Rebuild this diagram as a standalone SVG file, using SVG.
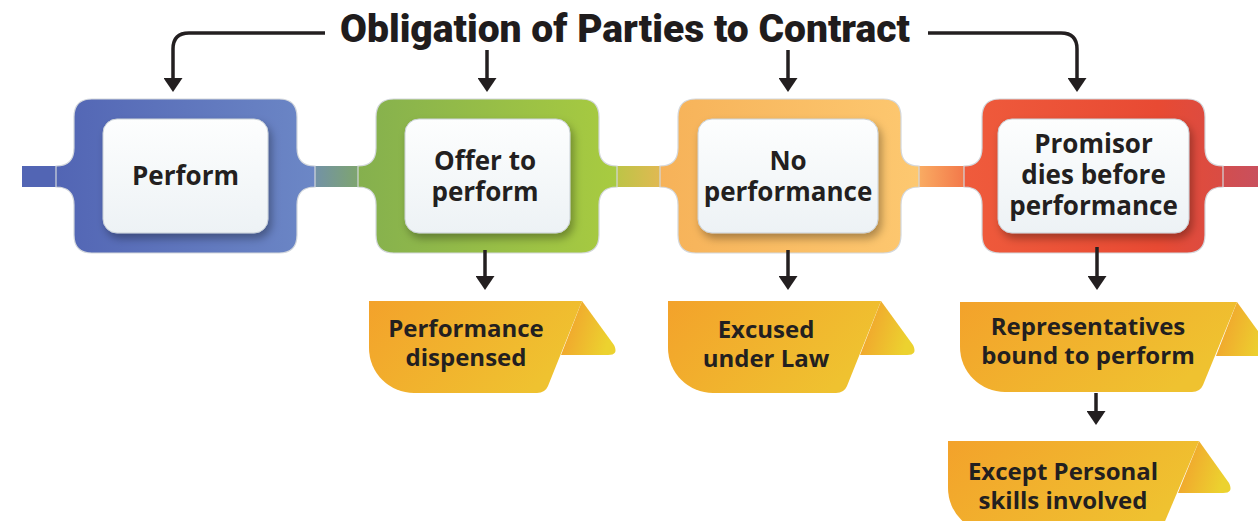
<svg xmlns="http://www.w3.org/2000/svg" width="1258" height="521" viewBox="0 0 1258 521">
  <defs>
    <style>
      .title { font-family: Roboto, "Liberation Sans", sans-serif; font-weight: 900; font-size: 38px; fill: #1f1c1d; }
      .ntext { font-family: "Open Sans", "Liberation Sans", sans-serif; font-weight: 700; font-size: 26px; fill: #231f20; text-anchor: middle; }
      .ltext { font-family: "Open Sans", "Liberation Sans", sans-serif; font-weight: 700; font-size: 24px; fill: #231f20; text-anchor: middle; }
      .wire { fill: none; stroke: #231f20; stroke-width: 3.5; }
      .outer { stroke: #d3d7dc; stroke-width: 1.2; }
      .inner { fill: url(#gWhite); stroke: #c9d0d6; stroke-width: 1; filter: url(#shadow); }
      .body { fill: url(#gTag); }
      .flap { fill: url(#gFlap); }
    </style>
    <marker id="head" viewBox="0 0 14 19" refX="4" refY="9.5" markerWidth="14" markerHeight="19" markerUnits="userSpaceOnUse" orient="auto">
      <path d="M0,0 L14,9.5 L0,19 Z" fill="#231f20"/>
    </marker>
    <filter id="shadow" x="-20%" y="-20%" width="150%" height="160%">
      <feDropShadow dx="3" dy="5" stdDeviation="4" flood-color="#000" flood-opacity="0.32"/>
    </filter>
    <linearGradient id="gWhite" x1="0" y1="0" x2="0" y2="1">
      <stop offset="0" stop-color="#fdfefe"/>
      <stop offset="1" stop-color="#edf2f5"/>
    </linearGradient>
    <linearGradient id="gBlue" x1="0" y1="0" x2="1" y2="0">
      <stop offset="0" stop-color="#5265b4"/>
      <stop offset="1" stop-color="#6c87c6"/>
    </linearGradient>
    <linearGradient id="gGreen" x1="0" y1="0" x2="1" y2="0">
      <stop offset="0" stop-color="#85b04e"/>
      <stop offset="1" stop-color="#a8cb40"/>
    </linearGradient>
    <linearGradient id="gOrange" x1="0" y1="0" x2="1" y2="0">
      <stop offset="0" stop-color="#f6b259"/>
      <stop offset="1" stop-color="#fdc870"/>
    </linearGradient>
    <linearGradient id="gRed" x1="0" y1="0" x2="1" y2="0">
      <stop offset="0" stop-color="#ef5b3c"/>
      <stop offset="0.75" stop-color="#e84a33"/>
      <stop offset="1" stop-color="#d94c44"/>
    </linearGradient>
    <linearGradient id="gBar1" x1="0" y1="0" x2="1" y2="0">
      <stop offset="0" stop-color="#6c87c6"/>
      <stop offset="1" stop-color="#85b04e"/>
    </linearGradient>
    <linearGradient id="gBar2" x1="0" y1="0" x2="1" y2="0">
      <stop offset="0" stop-color="#a8cb40"/>
      <stop offset="1" stop-color="#f6b259"/>
    </linearGradient>
    <linearGradient id="gBar3" x1="0" y1="0" x2="1" y2="0">
      <stop offset="0" stop-color="#fdc870"/>
      <stop offset="1" stop-color="#ef5b3c"/>
    </linearGradient>
    <linearGradient id="gBar4" x1="0" y1="0" x2="1" y2="0">
      <stop offset="0" stop-color="#d94c44"/>
      <stop offset="1" stop-color="#c9505d"/>
    </linearGradient>
    <linearGradient id="gTag" x1="0" y1="0" x2="1" y2="0.4">
      <stop offset="0" stop-color="#f3a22b"/>
      <stop offset="1" stop-color="#efc230"/>
    </linearGradient>
    <linearGradient id="gFlap" x1="0" y1="0" x2="1" y2="0.3">
      <stop offset="0" stop-color="#f29a2d"/>
      <stop offset="1" stop-color="#ecd22f"/>
    </linearGradient>
  </defs>

  <rect width="1258" height="521" fill="#ffffff"/>

  <!-- title -->
  <text class="title" x="340" y="42" textLength="570" lengthAdjust="spacingAndGlyphs">Obligation of Parties to Contract</text>

  <!-- horizontal track between the steps -->
  <g id="track">
    <rect x="22" y="166" width="60" height="21" fill="#5265b4"/>
    <rect x="290" y="166" width="94" height="21" fill="url(#gBar1)"/>
    <rect x="592" y="166" width="94" height="21" fill="url(#gBar2)"/>
    <rect x="894" y="166" width="96" height="21" fill="url(#gBar3)"/>
    <rect x="1198" y="166" width="60" height="21" fill="url(#gBar4)"/>
  </g>

  <!-- step 1 -->
  <g id="node-perform">
    <path class="outer" fill="url(#gBlue)" d="M92,99 H279 Q297,99 297,117 V148 Q297,166 315,166 V187 Q297,187 297,205 V235 Q297,253 279,253 H92 Q74,253 74,235 V205 Q74,187 56,187 V166 Q74,166 74,148 V117 Q74,99 92,99 Z"/>
    <rect class="inner" x="103" y="119" width="165" height="114" rx="14"/>
    <text class="ntext" x="185.5" y="185">Perform</text>
  </g>

  <!-- step 2 -->
  <g id="node-offer">
    <path class="outer" fill="url(#gGreen)" d="M394,99 H581 Q599,99 599,117 V148 Q599,166 617,166 V187 Q599,187 599,205 V235 Q599,253 581,253 H394 Q376,253 376,235 V205 Q376,187 358,187 V166 Q376,166 376,148 V117 Q376,99 394,99 Z"/>
    <rect class="inner" x="405" y="119" width="165" height="114" rx="14"/>
    <text class="ntext" x="485" y="170">Offer to</text>
    <text class="ntext" x="485" y="201">perform</text>
  </g>

  <!-- step 3 -->
  <g id="node-none">
    <path class="outer" fill="url(#gOrange)" d="M696,99 H883 Q901,99 901,117 V148 Q901,166 919,166 V187 Q901,187 901,205 V235 Q901,253 883,253 H696 Q678,253 678,235 V205 Q678,187 660,187 V166 Q678,166 678,148 V117 Q678,99 696,99 Z"/>
    <rect class="inner" x="698" y="119" width="180" height="114" rx="14"/>
    <text class="ntext" x="788" y="170">No</text>
    <text class="ntext" x="788" y="201">performance</text>
  </g>

  <!-- step 4 -->
  <g id="node-promisor">
    <path class="outer" fill="url(#gRed)" d="M1000,99 H1187 Q1205,99 1205,117 V148 Q1205,166 1223,166 V187 Q1205,187 1205,205 V235 Q1205,253 1187,253 H1000 Q982,253 982,235 V205 Q982,187 964,187 V166 Q982,166 982,148 V117 Q982,99 1000,99 Z"/>
    <rect class="inner" x="998" y="119" width="191" height="114" rx="14"/>
    <text class="ntext" x="1093.5" y="153">Promisor</text>
    <text class="ntext" x="1093.5" y="184">dies before</text>
    <text class="ntext" x="1093.5" y="215">performance</text>
  </g>

  <!-- outcome tags -->
  <g id="tag-dispensed">
    <path class="flap" d="M582,301 L614,345 Q619,355 608,355 H561 Z"/>
    <path class="body" d="M369,301 H582 L548,386 Q545,393 537,393 H414 A45,45 0 0 1 369,348 Z"/>
    <text class="ltext" x="466" y="337">Performance</text>
    <text class="ltext" x="466" y="366">dispensed</text>
  </g>

  <g id="tag-excused">
    <path class="flap" d="M881,301 L913,345 Q918,355 907,355 H860 Z"/>
    <path class="body" d="M668,301 H881 L847,386 Q844,393 836,393 H713 A45,45 0 0 1 668,348 Z"/>
    <text class="ltext" x="766" y="338">Excused</text>
    <text class="ltext" x="766" y="367">under Law</text>
  </g>

  <g id="tag-representatives">
    <path class="flap" d="M1237,302 L1269,346 Q1274,356 1263,356 H1216 Z"/>
    <path class="body" d="M960,302 H1237 L1203,385 Q1200,392 1192,392 H1005 A45,45 0 0 1 960,347 Z"/>
    <text class="ltext" x="1088" y="335">Representatives</text>
    <text class="ltext" x="1088" y="364">bound to perform</text>
  </g>

  <g id="tag-personal">
    <path class="flap" d="M1199,441 L1229,483 Q1234,493 1223,493 H1178 Z"/>
    <path class="body" d="M948,441 H1199 L1163,526 Q1160,533 1152,533 H993 A45,45 0 0 1 948,488 Z"/>
    <text class="ltext" x="1063" y="480">Except Personal</text>
    <text class="ltext" x="1063" y="509">skills involved</text>
  </g>

  <!-- connectors -->
  <g id="connectors">
    <path class="wire" marker-end="url(#head)" d="M325,33 H189 Q173,33 173,49 V82"/>
    <path class="wire" marker-end="url(#head)" d="M487,50 V82"/>
    <path class="wire" marker-end="url(#head)" d="M788,50 V82"/>
    <path class="wire" marker-end="url(#head)" d="M928,33 H1061 Q1077,33 1077,49 V82"/>
    <path class="wire" marker-end="url(#head)" d="M485,250 V280"/>
    <path class="wire" marker-end="url(#head)" d="M788,250 V280"/>
    <path class="wire" marker-end="url(#head)" d="M1097,247 V280"/>
    <path class="wire" marker-end="url(#head)" d="M1096,393 V415"/>
  </g>
</svg>
